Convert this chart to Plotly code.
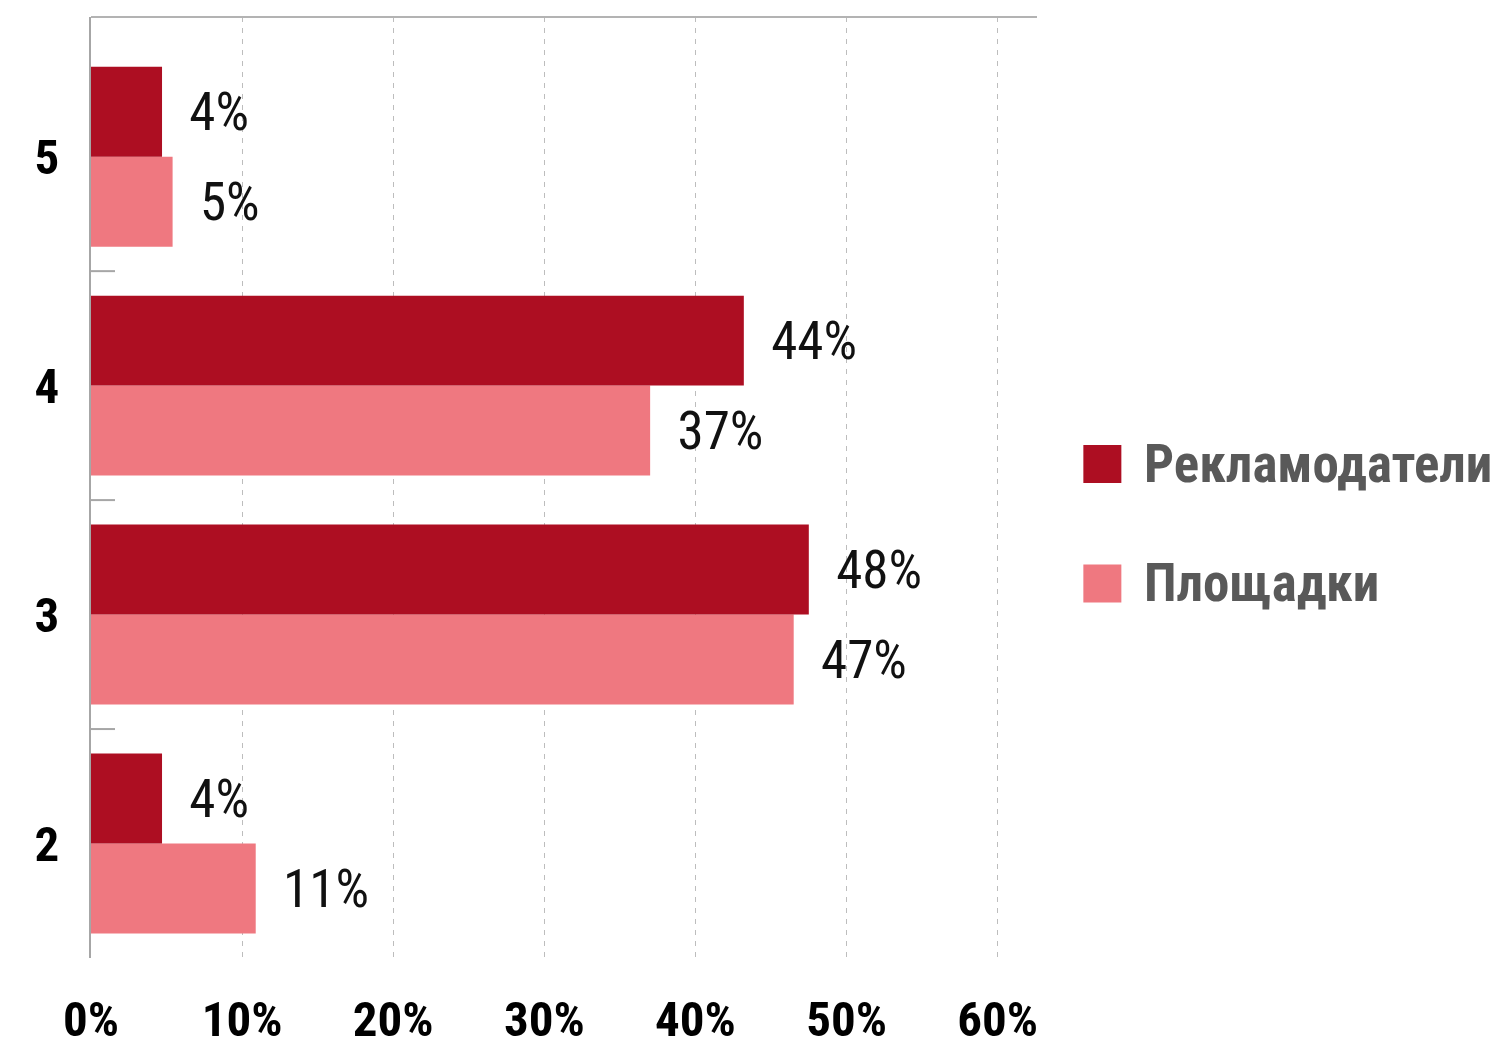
import plotly.graph_objects as go

categories = ["2", "3", "4", "5"]
series_names = ["Рекламодатели", "Площадки"]
advertisers = [4.7, 47.5, 43.2, 4.7]
advertisers_labels = ["4%", "48%", "44%", "4%"]
platforms = [10.9, 46.5, 37.0, 5.4]
platforms_labels = ["11%", "47%", "37%", "5%"]
x_tickvals = [0, 10, 20, 30, 40, 50, 60]
x_ticktext = ["0%", "10%", "20%", "30%", "40%", "50%", "60%"]

DARK = "#AD0E22"
PINK = "#EF7880"
FONT = "Liberation Sans Narrow, Roboto Condensed, Arial Narrow, Roboto, sans-serif"
PAD = "\u00a0\u00a0"

fig = go.Figure()
fig.add_trace(go.Bar(
    y=categories, x=platforms, orientation="h", name=series_names[1],
    marker=dict(color=PINK, line=dict(width=0)),
    text=[PAD + t for t in platforms_labels], textposition="outside",
    textfont=dict(family=FONT, size=53, color="#111111"),
    constraintext="none", cliponaxis=False, showlegend=False,
))
fig.add_trace(go.Bar(
    y=categories, x=advertisers, orientation="h", name=series_names[0],
    marker=dict(color=DARK, line=dict(width=0)),
    text=[PAD + t for t in advertisers_labels], textposition="outside",
    textfont=dict(family=FONT, size=53, color="#111111"),
    constraintext="none", cliponaxis=False, showlegend=False,
))

shapes = []
# top border line
shapes.append(dict(type="line", xref="paper", yref="paper", x0=0, x1=1, y0=1, y1=1,
                   line=dict(color="#b3b3b3", width=2)))
# category separator ticks
for i in range(len(categories) - 1):
    shapes.append(dict(type="line", xref="x", yref="y", xsizemode="pixel", xanchor=0,
                       x0=0, x1=24, y0=i + 0.5, y1=i + 0.5,
                       line=dict(color="#a6a6a6", width=2)))

# manual legend
legend_colors = [DARK, PINK]
legend_y = [0.525, 0.398]
annotations = []
for name, col, yy in zip(series_names, legend_colors, legend_y):
    shapes.append(dict(type="rect", xref="paper", yref="paper",
                       xsizemode="pixel", ysizemode="pixel", xanchor=1.049, yanchor=yy,
                       x0=0, x1=38, y0=-19, y1=19, fillcolor=col, line=dict(width=0)))
    annotations.append(dict(xref="paper", yref="paper", x=1.049, y=yy, xshift=59,
                            xanchor="left", yanchor="middle", showarrow=False,
                            text="<b>" + name + "</b>",
                            font=dict(family=FONT, size=53, color="#595959")))

fig.update_layout(
    width=1507, height=1049,
    margin=dict(l=91, r=470, t=17, b=91),
    paper_bgcolor="white", plot_bgcolor="white",
    barmode="group", bargap=0.214, bargroupgap=0,
    showlegend=False,
    shapes=shapes, annotations=annotations,
    xaxis=dict(range=[0, 62.6], tickvals=x_tickvals, ticktext=x_ticktext,
               showgrid=True, gridcolor="#bdbdbd", gridwidth=1, griddash="5px,6px",
               zeroline=False, showline=False, ticks="", automargin=False,
               tickfont=dict(family=FONT, size=49, color="#000000", weight="bold"),
               ticklabelstandoff=28),
    yaxis=dict(type="category", categoryorder="array", categoryarray=categories,
               range=[-0.5, 3.61], showgrid=False, zeroline=False, automargin=False,
               showline=True, linecolor="#a6a6a6", linewidth=2, ticks="",
               tickfont=dict(family=FONT, size=49, color="#000000", weight="bold"),
               ticklabelstandoff=20),
    font=dict(family=FONT),
)

fig.write_html("out.html", config={"displayModeBar": False},
               post_script="document.body.style.margin='0';document.body.style.overflow='hidden';")
